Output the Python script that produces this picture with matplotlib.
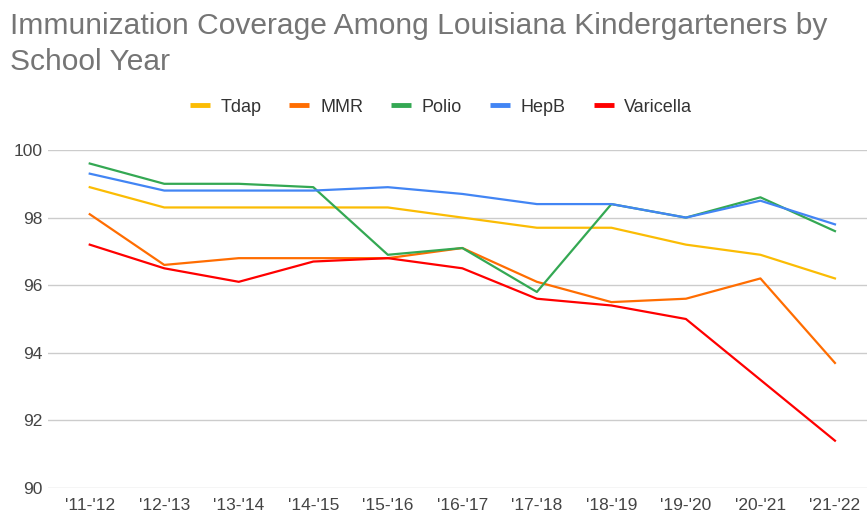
import matplotlib.pyplot as plt
from matplotlib.lines import Line2D

years = ["'11-'12", "'12-'13", "'13-'14", "'14-'15", "'15-'16", "'16-'17",
         "'17-'18", "'18-'19", "'19-'20", "'20-'21", "'21-'22"]
tdap = [98.9, 98.3, 98.3, 98.3, 98.3, 98.0, 97.7, 97.7, 97.2, 96.9, 96.2]
mmr = [98.1, 96.6, 96.8, 96.8, 96.8, 97.1, 96.1, 95.5, 95.6, 96.2, 93.7]
polio = [99.6, 99.0, 99.0, 98.9, 96.9, 97.1, 95.8, 98.4, 98.0, 98.6, 97.6]
hepb = [99.3, 98.8, 98.8, 98.8, 98.9, 98.7, 98.4, 98.4, 98.0, 98.5, 97.8]
varicella = [97.2, 96.5, 96.1, 96.7, 96.8, 96.5, 95.6, 95.4, 95.0, 93.2, 91.4]

series = [("Tdap", tdap, "#fbbc04"), ("MMR", mmr, "#ff6d01"),
          ("Polio", polio, "#34a853"), ("HepB", hepb, "#4285f4"),
          ("Varicella", varicella, "#ff0000")]

plt.rcParams['font.family'] = ['Liberation Sans', 'DejaVu Sans']

fig = plt.figure(figsize=(8.67, 5.14), dpi=100)
W, H = 867, 514
ax = fig.add_axes([48 / W, (H - 488) / H, 1 - 48 / W, (488 - 150) / H])

x = list(range(len(years)))
handles = []
for name, vals, col in series:
    ax.plot(x, vals, color=col, lw=1.6, solid_joinstyle='round')
    handles.append(Line2D([0], [0], color=col, lw=3.5, solid_capstyle='butt'))

ax.set_ylim(90, 100)
ax.set_xlim(-0.56, 10.43)
ax.set_yticks([90, 92, 94, 96, 98, 100])
ax.set_xticks(x)
ax.set_xticklabels(years)
ax.grid(axis='y', color='#cccccc', lw=1)
ax.set_axisbelow(True)
for s in ax.spines.values():
    s.set_visible(False)
ax.tick_params(length=0, labelsize=12.5, colors='#444444')
ax.tick_params(axis='x', pad=7)
ax.tick_params(axis='y', pad=4)

fig.text(10 / W, 1 - 26 / H, "Immunization Coverage Among Louisiana Kindergarteners by",
         fontsize=21.6, color='#757575', va='center', ha='left')
fig.text(10 / W, 1 - 62 / H, "School Year",
         fontsize=21.6, color='#757575', va='center', ha='left')

fig.legend(handles, [s[0] for s in series], loc='center', bbox_to_anchor=(441 / W, 1 - 107 / H),
           ncol=5, frameon=False, fontsize=13, handlelength=1.1, handletextpad=0.6,
           columnspacing=1.55, labelcolor='#333333')

fig.savefig("out.png", dpi=100)
